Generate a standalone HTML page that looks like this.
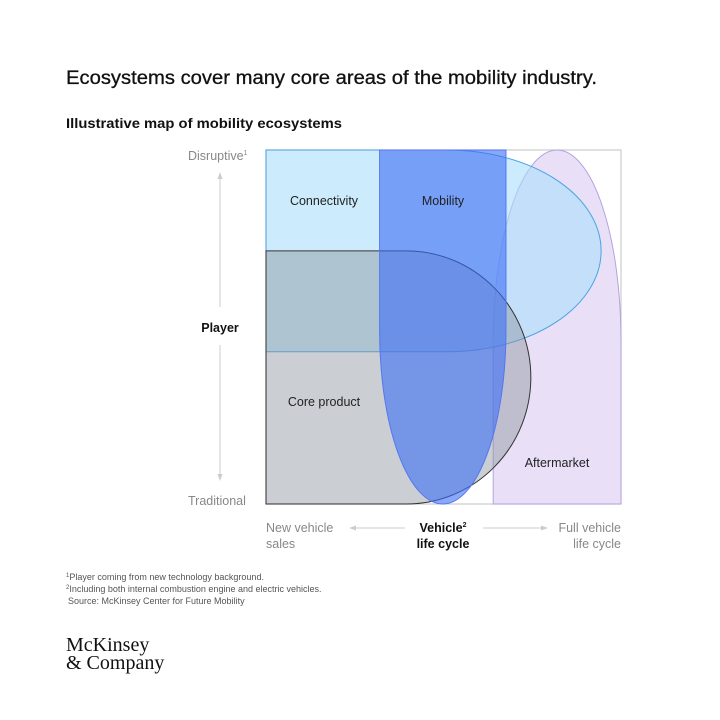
<!DOCTYPE html>
<html><head><meta charset="utf-8"><style>
html,body{margin:0;padding:0;background:#fff;}
svg{display:block;font-family:"Liberation Sans",sans-serif;}
</style></head><body>
<svg width="720" height="720" viewBox="0 0 720 720">
<text x="66" y="84" font-size="19" fill="#111" stroke="#111" stroke-width="0.3" textLength="531" lengthAdjust="spacingAndGlyphs">Ecosystems cover many core areas of the mobility industry.</text>
<text x="66" y="128" font-size="14" font-weight="bold" fill="#111" textLength="276" lengthAdjust="spacingAndGlyphs">Illustrative map of mobility ecosystems</text>

<rect x="266" y="150" width="355" height="354" fill="#fff" stroke="#ccc" stroke-width="1.2"/>
<g id="shapes"></g>

<text x="443" y="205" font-size="12.5" fill="#222" text-anchor="middle">Mobility</text>
<text x="324" y="205" font-size="12.5" fill="#222" text-anchor="middle">Connectivity</text>
<text x="324" y="406" font-size="12.5" fill="#222" text-anchor="middle">Core product</text>
<text x="557" y="467" font-size="12.5" fill="#222" text-anchor="middle">Aftermarket</text>

<text x="188" y="160" font-size="12.5" fill="#888">Disruptive<tspan font-size="7" dy="-5">1</tspan></text>
<text x="188" y="505" font-size="12.5" fill="#888">Traditional</text>
<text x="220" y="332" font-size="12.5" font-weight="bold" fill="#111" text-anchor="middle">Player</text>
<line x1="220" y1="175" x2="220" y2="307" stroke="#ccc"/>
<polygon points="220,172 217.5,179 222.5,179" fill="#ccc"/>
<line x1="220" y1="345" x2="220" y2="478" stroke="#ccc"/>
<polygon points="220,481 217.5,474 222.5,474" fill="#ccc"/>

<text x="266" y="532" font-size="12.5" fill="#888">New vehicle</text>
<text x="266" y="548" font-size="12.5" fill="#888">sales</text>
<text x="443" y="532" font-size="12.5" font-weight="bold" fill="#111" text-anchor="middle">Vehicle<tspan font-size="7" dy="-5">2</tspan></text>
<text x="443" y="548" font-size="12.5" font-weight="bold" fill="#111" text-anchor="middle">life cycle</text>
<text x="621" y="532" font-size="12.5" fill="#888" text-anchor="end">Full vehicle</text>
<text x="621" y="548" font-size="12.5" fill="#888" text-anchor="end">life cycle</text>
<line x1="352" y1="528" x2="405" y2="528" stroke="#ccc"/>
<polygon points="349,528 356,525.5 356,530.5" fill="#ccc"/>
<line x1="483" y1="528" x2="545" y2="528" stroke="#ccc"/>
<polygon points="548,528 541,525.5 541,530.5" fill="#ccc"/>

<g font-size="9" fill="#555">
<text x="66" y="580"><tspan font-size="6" dy="-3">1</tspan><tspan dy="3">Player coming from new technology background.</tspan></text>
<text x="66" y="592"><tspan font-size="6" dy="-3">2</tspan><tspan dy="3">Including both internal combustion engine and electric vehicles.</tspan></text>
<text x="68" y="604">Source: McKinsey Center for Future Mobility</text>
</g>
<text x="66" y="651" font-size="20" fill="#111" font-family="Liberation Serif,serif">McKinsey</text>
<text x="66" y="669" font-size="20" fill="#111" font-family="Liberation Serif,serif">&amp; Company</text>
</svg>
<script>
// Axis domain: x = vehicle life cycle (0 new sales -> 100 full life cycle), y = player (0 traditional -> 100 disruptive)
const shapeNames = ['aftermarket','connectivity','core-product','mobility'];
const xStart = [64, 0, 0, 32];
const xEnd = [100, 94.4, 74.6, 67.6];
const yLow = [0, 43, 0, 0];
const yHigh = [100, 100, 71.5, 100];
const fills = ['rgba(225,214,245,0.75)','rgba(170,222,250,0.6)','rgba(140,148,158,0.45)','rgba(60,110,245,0.6)'];
const strokes = ['#b4a2e0','#4aa3e0','#333','#5577ee'];
const X0=266,X1=621,Y0=504,Y1=150;
function sx(v){return X0+(X1-X0)*v/100;}
function sy(v){return Y0-(Y0-Y1)*v/100;}
(function(){
  var g=document.getElementById('shapes');
  var NS='http://www.w3.org/2000/svg';
  for(var i=0;i<shapeNames.length;i++){
    var l=sx(xStart[i]),r=sx(xEnd[i]),b=sy(yLow[i]),t=sy(yHigh[i]);
    var d,rx,ry,cx,cy;
    if(i===0){
      rx=(r-l)/2; ry=(b-t)*0.54; cy=t+ry;
      d='M'+l+','+b+' L'+l+','+cy+' A'+rx+','+ry+' 0 0 1 '+r+','+cy+' L'+r+','+b+' Z';
    } else if(i===3){
      rx=(r-l)/2; ry=(b-t)*0.49; cy=b-ry;
      d='M'+l+','+t+' L'+r+','+t+' L'+r+','+cy+' A'+rx+','+ry+' 0 0 1 '+l+','+cy+' Z';
    } else {
      ry=(b-t)/2; rx=(r-l)*(i===1?0.46:0.47); cx=r-rx;
      d='M'+l+','+t+' L'+cx+','+t+' A'+rx+','+ry+' 0 0 1 '+cx+','+b+' L'+l+','+b+' Z';
    }
    var p=document.createElementNS(NS,'path');
    p.setAttribute('d',d);
    p.setAttribute('fill',fills[i]);
    p.setAttribute('stroke',strokes[i]);
    p.setAttribute('stroke-width','1');
    
    
    g.appendChild(p);
  }
})();
</script>
</body></html>
